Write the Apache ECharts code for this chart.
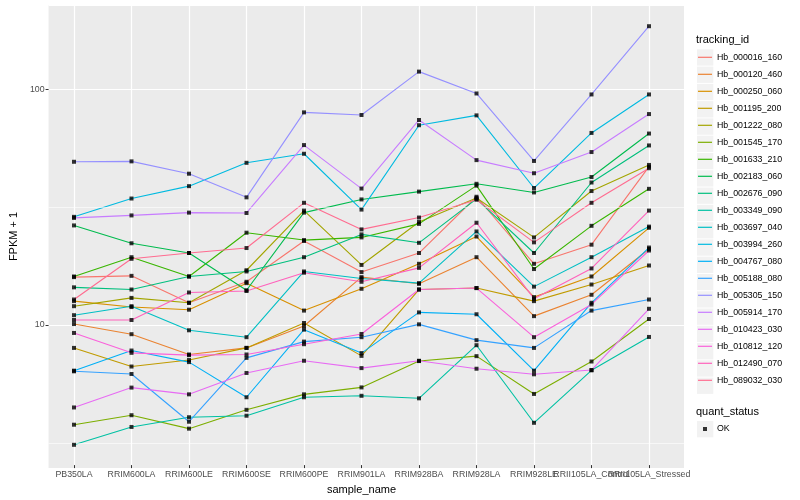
<!DOCTYPE html>
<html>
<head>
<meta charset="utf-8">
<script src="https://cdn.jsdelivr.net/npm/echarts@6/dist/echarts.min.js"></script>
<style>html,body{margin:0;padding:0;background:#fff}#c{width:800px;height:500px}</style>
</head>
<body>
<div id="c"></div>
<script>
const categories = ['PB350LA','RRIM600LA','RRIM600LE','RRIM600SE','RRIM600PE','RRIM901LA','RRIM928BA','RRIM928LA','RRIM928LE','RRII105LA_Control','RRII105LA_Stressed'];

const Hb_000016_160 = [15.7, 15.9, 12.2, 15.0, 22.4, 16.5, 19.9, 34.6, 17.9, 21.6, 46.5];
const Hb_000120_460 = [9.90, 8.96, 7.34, 7.83, 9.71, 15.7, 14.7, 19.1, 10.7, 13.2, 20.7];
const Hb_000250_060 = [12.4, 11.7, 11.4, 14.8, 11.3, 14.0, 17.9, 23.4, 12.9, 15.8, 25.5];
const Hb_001195_200 = [7.83, 6.52, 6.95, 7.83, 10.0, 7.24, 13.9, 14.1, 12.4, 14.6, 17.6];
const Hb_001222_080 = [11.8, 12.8, 12.2, 16.8, 30.2, 17.7, 27.0, 34.2, 23.2, 36.6, 47.3];
const Hb_001545_170 = [3.68, 4.04, 3.54, 4.26, 4.96, 5.31, 6.88, 7.22, 4.98, 6.85, 10.4];
const Hb_001633_210 = [15.8, 19.1, 15.8, 24.3, 22.6, 23.2, 26.5, 38.6, 17.0, 26.0, 37.4];
const Hb_002183_060 = [26.1, 21.9, 19.9, 13.8, 29.6, 33.7, 36.4, 39.3, 36.1, 42.0, 64.4];
const Hb_002676_090 = [14.2, 13.9, 15.8, 16.6, 19.1, 23.9, 22.0, 33.9, 19.9, 39.8, 57.3];
const Hb_003349_090 = [3.02, 3.60, 3.96, 4.02, 4.82, 4.89, 4.77, 8.04, 3.75, 6.28, 8.72];
const Hb_003697_040 = [10.8, 11.8, 9.31, 8.70, 16.6, 15.5, 14.8, 24.6, 14.3, 19.1, 25.8];
const Hb_003994_260 = [28.4, 34.0, 38.4, 48.3, 52.8, 30.5, 69.9, 77.0, 37.7, 64.8, 94.6];
const Hb_004767_080 = [6.26, 7.63, 6.81, 4.82, 9.37, 7.44, 11.1, 10.9, 6.26, 12.2, 21.0];
const Hb_005188_080 = [6.22, 6.06, 3.79, 7.10, 8.33, 8.70, 9.87, 8.45, 7.83, 11.3, 12.6];
const Hb_005305_150 = [48.8, 49.0, 43.4, 34.4, 79.3, 77.3, 118.4, 95.5, 49.2, 94.6, 185.0];
const Hb_005914_170 = [28.1, 28.8, 29.6, 29.5, 57.5, 37.5, 73.6, 49.6, 43.6, 53.7, 78.0];
const Hb_010423_030 = [4.36, 5.30, 4.96, 6.12, 6.90, 6.42, 6.90, 6.38, 6.04, 6.30, 11.5];
const Hb_010812_120 = [9.07, 7.46, 7.29, 7.34, 8.12, 8.98, 13.9, 14.1, 8.70, 12.0, 20.4];
const Hb_012490_070 = [10.3, 10.3, 13.5, 13.7, 16.4, 15.0, 17.2, 26.8, 12.7, 17.1, 30.2];
const Hb_089032_030 = [12.6, 18.8, 19.9, 20.9, 32.6, 25.1, 28.2, 33.6, 22.1, 32.6, 45.8];

const trackingIds = ['Hb_000016_160','Hb_000120_460','Hb_000250_060','Hb_001195_200','Hb_001222_080','Hb_001545_170','Hb_001633_210','Hb_002183_060','Hb_002676_090','Hb_003349_090','Hb_003697_040','Hb_003994_260','Hb_004767_080','Hb_005188_080','Hb_005305_150','Hb_005914_170','Hb_010423_030','Hb_010812_120','Hb_012490_070','Hb_089032_030'];
const seriesValues = [Hb_000016_160, Hb_000120_460, Hb_000250_060, Hb_001195_200, Hb_001222_080, Hb_001545_170, Hb_001633_210, Hb_002183_060, Hb_002676_090, Hb_003349_090, Hb_003697_040, Hb_003994_260, Hb_004767_080, Hb_005188_080, Hb_005305_150, Hb_005914_170, Hb_010423_030, Hb_010812_120, Hb_012490_070, Hb_089032_030];
const colors = ['#F8766D','#EA8331','#D89000','#C09B00','#A3A500','#7CAE00','#39B600','#00BB4E','#00BF7D','#00C1A3','#00BFC4','#00BAE0','#00B0F6','#35A2FF','#9590FF','#C77CFF','#E76BF3','#FA62DB','#FF62BC','#FF6C90'];
const yTickLabels = [10, 100];
const yMinorBreaks = [3.1623, 31.623];
const quantStatus = ['OK'];

const FONT = '"Liberation Sans", Arial, Helvetica, sans-serif';
const Y_MIN = 2.474, Y_MAX = 227.9;
const PANEL = {left: 40, right: 116, top: 5, bottom: 32};
const DATA_GRID = {left: 74, right: 151, top: 5, bottom: 32};

const chart = echarts.init(document.getElementById('c'), null, {renderer: 'canvas'});

const lineSeries = trackingIds.map((id, k) => ({
  name: id,
  type: 'line',
  xAxisIndex: 1,
  yAxisIndex: 1,
  data: seriesValues[k],
  symbol: 'none',
  showSymbol: false,
  lineStyle: {color: colors[k], width: 1.1},
  itemStyle: {color: colors[k]},
  z: 3,
  silent: true
}));

const pointData = [];
seriesValues.forEach(vals => vals.forEach((v, i) => pointData.push([i, v])));

const legendTop = 49.3, legendStep = 17.28, keyX = 697, keySize = 16.3;
const keyRects = [];
for (let i = 0; i < trackingIds.length; i++) {
  keyRects.push({type: 'rect', left: keyX, top: legendTop + i * legendStep, shape: {width: keySize, height: keySize}, style: {fill: '#F2F2F2'}, silent: true, z: -1});
}
const okTop = 421;
keyRects.push({type: 'rect', left: keyX, top: okTop, shape: {width: keySize, height: keySize}, style: {fill: '#F2F2F2'}, silent: true, z: -1});

const isTickValue = v => yTickLabels.some(t => Math.abs(Math.log10(v) - Math.log10(t)) < 1e-6);

const option = {
  animation: false,
  backgroundColor: '#ffffff',
  textStyle: {fontFamily: FONT},
  title: [
    {text: 'tracking_id', left: 696, top: 34, padding: 0, textStyle: {fontSize: 11, fontWeight: 'normal', color: '#000', fontFamily: FONT}},
    {text: 'quant_status', left: 696, top: 406, padding: 0, textStyle: {fontSize: 11, fontWeight: 'normal', color: '#000', fontFamily: FONT}}
  ],
  graphic: keyRects,
  legend: [
    {
      data: trackingIds,
      orient: 'vertical',
      left: 698,
      top: legendTop,
      padding: 0,
      itemWidth: 14,
      itemHeight: 16.28,
      itemGap: 1,
      icon: 'path://M0,0 M14,16 M0,7.4 L14,7.4 L14,8.6 L0,8.6 Z',
      selectedMode: false,
      textStyle: {fontSize: 8.8, color: '#000', fontFamily: FONT}
    },
    {
      data: quantStatus,
      orient: 'vertical',
      left: 698,
      top: okTop,
      padding: 0,
      itemWidth: 14,
      itemHeight: 16.28,
      icon: 'path://M0,0 M14,16 M5,6 L9,6 L9,10 L5,10 Z',
      selectedMode: false,
      textStyle: {fontSize: 8.8, color: '#000', fontFamily: FONT}
    }
  ],
  grid: [
    {left: PANEL.left, right: PANEL.right, top: PANEL.top, bottom: PANEL.bottom, show: true, backgroundColor: '#EBEBEB', borderWidth: 0, containLabel: false},
    {left: DATA_GRID.left, right: DATA_GRID.right, top: DATA_GRID.top, bottom: DATA_GRID.bottom, containLabel: false}
  ],
  xAxis: [
    {gridIndex: 0, type: 'value', min: 0, max: 1, show: false},
    {
      gridIndex: 1,
      type: 'category',
      data: categories,
      boundaryGap: false,
      name: 'sample_name',
      nameLocation: 'middle',
      nameGap: 14,
      nameTextStyle: {fontSize: 11, color: '#000', fontFamily: FONT},
      axisLine: {show: false},
      axisTick: {show: true, length: 3, interval: 0, lineStyle: {color: '#333333', width: 1}},
      axisLabel: {interval: 0, fontSize: 8.8, color: '#4D4D4D', margin: 5, fontFamily: FONT},
      splitLine: {show: true, interval: 0, lineStyle: {color: '#FFFFFF', width: 1.2}}
    }
  ],
  yAxis: [
    {
      gridIndex: 0,
      type: 'log',
      logBase: 10,
      min: Y_MIN,
      max: Y_MAX,
      name: 'FPKM + 1',
      nameLocation: 'middle',
      nameGap: 22,
      nameTextStyle: {fontSize: 11, color: '#000', fontFamily: FONT},
      axisLine: {show: false},
      axisTick: {show: true, length: 3, lineStyle: {color: '#333333', width: 1}},
      axisLabel: {
        fontSize: 8.8, color: '#4D4D4D', margin: 4, showMinLabel: false, showMaxLabel: false, fontFamily: FONT,
        formatter: v => isTickValue(v) ? String(Math.round(v)) : ''
      },
      splitLine: {show: true, lineStyle: {color: '#FFFFFF', width: 1.2}}
    },
    {gridIndex: 1, type: 'log', logBase: 10, min: Y_MIN, max: Y_MAX, show: false}
  ],
  series: [
    {
      name: '_minor',
      type: 'line',
      xAxisIndex: 0,
      yAxisIndex: 0,
      data: [],
      silent: true,
      z: 1,
      markLine: {
        silent: true,
        symbol: ['none', 'none'],
        label: {show: false},
        lineStyle: {color: '#FFFFFF', width: 0.6, type: 'solid'},
        emphasis: {disabled: true},
        data: yMinorBreaks.map(v => ({yAxis: v}))
      }
    },
    ...lineSeries,
    {
      name: 'OK',
      type: 'scatter',
      xAxisIndex: 1,
      yAxisIndex: 1,
      data: pointData,
      symbol: 'rect',
      symbolSize: 4,
      itemStyle: {color: '#000000'},
      z: 5,
      silent: true
    }
  ]
};
chart.setOption(option);
</script>
</body>
</html>
